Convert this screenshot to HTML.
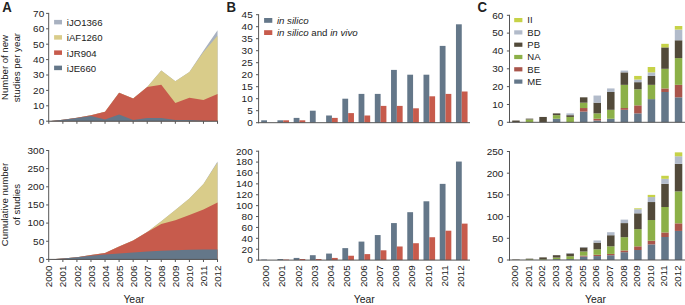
<!DOCTYPE html>
<html><head><meta charset="utf-8"><style>
html,body{margin:0;padding:0;background:#fff;}
svg{display:block;}
text{font-family:"Liberation Sans",sans-serif;fill:#222;}
</style></head><body>
<svg width="685" height="305" viewBox="0 0 685 305">
<polygon points="48.80,121.20 62.86,119.66 76.92,117.81 90.98,115.19 105.04,111.65 119.10,92.71 133.16,98.56 147.22,87.01 161.28,70.38 175.34,81.16 189.40,71.92 203.46,50.67 217.52,30.34 217.52,121.20 48.80,121.20" fill="#a8b1c0"/>
<polygon points="48.80,121.20 62.86,119.66 76.92,117.81 90.98,115.19 105.04,111.65 119.10,92.71 133.16,98.56 147.22,87.01 161.28,70.38 175.34,81.16 189.40,71.92 203.46,51.90 217.52,35.73 217.52,121.20 48.80,121.20" fill="#d9cc8a"/>
<polygon points="48.80,121.20 62.86,119.66 76.92,117.81 90.98,115.19 105.04,111.65 119.10,92.71 133.16,98.56 147.22,87.01 161.28,84.86 175.34,103.03 189.40,97.64 203.46,100.10 217.52,94.10 217.52,121.20 48.80,121.20" fill="#c75b4c"/>
<polygon points="48.80,121.20 62.86,119.66 76.92,118.12 90.98,116.12 105.04,119.51 119.10,114.58 133.16,120.12 147.22,118.12 161.28,118.12 175.34,120.12 189.40,120.12 203.46,120.74 217.52,121.20 217.52,121.20 48.80,121.20" fill="#647789"/>
<line x1="48.70" y1="12.90" x2="48.70" y2="121.70" stroke="#555" stroke-width="1"/>
<line x1="46.10" y1="121.20" x2="48.70" y2="121.20" stroke="#555" stroke-width="1"/>
<text transform="translate(44.20,124.55) scale(1,0.9)" text-anchor="end" font-size="10.0" >0</text>
<line x1="46.10" y1="105.80" x2="48.70" y2="105.80" stroke="#555" stroke-width="1"/>
<text transform="translate(44.20,109.15) scale(1,0.9)" text-anchor="end" font-size="10.0" >10</text>
<line x1="46.10" y1="90.40" x2="48.70" y2="90.40" stroke="#555" stroke-width="1"/>
<text transform="translate(44.20,93.75) scale(1,0.9)" text-anchor="end" font-size="10.0" >20</text>
<line x1="46.10" y1="75.00" x2="48.70" y2="75.00" stroke="#555" stroke-width="1"/>
<text transform="translate(44.20,78.35) scale(1,0.9)" text-anchor="end" font-size="10.0" >30</text>
<line x1="46.10" y1="59.60" x2="48.70" y2="59.60" stroke="#555" stroke-width="1"/>
<text transform="translate(44.20,62.95) scale(1,0.9)" text-anchor="end" font-size="10.0" >40</text>
<line x1="46.10" y1="44.20" x2="48.70" y2="44.20" stroke="#555" stroke-width="1"/>
<text transform="translate(44.20,47.55) scale(1,0.9)" text-anchor="end" font-size="10.0" >50</text>
<line x1="46.10" y1="28.80" x2="48.70" y2="28.80" stroke="#555" stroke-width="1"/>
<text transform="translate(44.20,32.15) scale(1,0.9)" text-anchor="end" font-size="10.0" >60</text>
<line x1="46.10" y1="13.40" x2="48.70" y2="13.40" stroke="#555" stroke-width="1"/>
<text transform="translate(44.20,16.75) scale(1,0.9)" text-anchor="end" font-size="10.0" >70</text>
<line x1="48.30" y1="121.20" x2="218.02" y2="121.20" stroke="#555" stroke-width="1"/>
<line x1="48.80" y1="121.20" x2="48.80" y2="123.80" stroke="#555" stroke-width="1"/>
<line x1="62.86" y1="121.20" x2="62.86" y2="123.80" stroke="#555" stroke-width="1"/>
<line x1="76.92" y1="121.20" x2="76.92" y2="123.80" stroke="#555" stroke-width="1"/>
<line x1="90.98" y1="121.20" x2="90.98" y2="123.80" stroke="#555" stroke-width="1"/>
<line x1="105.04" y1="121.20" x2="105.04" y2="123.80" stroke="#555" stroke-width="1"/>
<line x1="119.10" y1="121.20" x2="119.10" y2="123.80" stroke="#555" stroke-width="1"/>
<line x1="133.16" y1="121.20" x2="133.16" y2="123.80" stroke="#555" stroke-width="1"/>
<line x1="147.22" y1="121.20" x2="147.22" y2="123.80" stroke="#555" stroke-width="1"/>
<line x1="161.28" y1="121.20" x2="161.28" y2="123.80" stroke="#555" stroke-width="1"/>
<line x1="175.34" y1="121.20" x2="175.34" y2="123.80" stroke="#555" stroke-width="1"/>
<line x1="189.40" y1="121.20" x2="189.40" y2="123.80" stroke="#555" stroke-width="1"/>
<line x1="203.46" y1="121.20" x2="203.46" y2="123.80" stroke="#555" stroke-width="1"/>
<line x1="217.52" y1="121.20" x2="217.52" y2="123.80" stroke="#555" stroke-width="1"/>
<rect x="54.10" y="19.90" width="7.90" height="4.50" fill="#a8b1c0"/>
<text x="66.80" y="26.10" text-anchor="start" font-size="9.6" >iJO1366</text>
<rect x="54.10" y="35.15" width="7.90" height="4.50" fill="#d9cc8a"/>
<text x="66.80" y="41.35" text-anchor="start" font-size="9.6" >iAF1260</text>
<rect x="54.10" y="50.40" width="7.90" height="4.50" fill="#c75b4c"/>
<text x="66.80" y="56.60" text-anchor="start" font-size="9.6" >iJR904</text>
<rect x="54.10" y="65.65" width="7.90" height="4.50" fill="#647789"/>
<text x="66.80" y="71.85" text-anchor="start" font-size="9.6" >iJE660</text>
<polygon points="48.80,259.40 62.86,258.60 76.92,257.30 90.98,255.10 105.04,253.10 119.10,246.60 133.16,240.50 147.22,232.00 161.28,221.30 175.34,210.10 189.40,198.60 203.46,184.00 217.52,161.50 217.52,259.40 48.80,259.40" fill="#a8b1c0"/>
<polygon points="48.80,259.40 62.86,258.60 76.92,257.30 90.98,255.10 105.04,253.10 119.10,246.60 133.16,240.50 147.22,232.00 161.28,221.30 175.34,210.10 189.40,198.60 203.46,184.10 217.52,162.40 217.52,259.40 48.80,259.40" fill="#d9cc8a"/>
<polygon points="48.80,259.40 62.86,258.60 76.92,257.30 90.98,255.10 105.04,253.10 119.10,246.60 133.16,240.50 147.22,232.00 161.28,223.90 175.34,220.20 189.40,214.90 203.46,209.60 217.52,202.40 217.52,259.40 48.80,259.40" fill="#c75b4c"/>
<polygon points="48.80,259.40 62.86,258.60 76.92,257.30 90.98,255.80 105.04,254.40 119.10,253.40 133.16,252.50 147.22,251.50 161.28,250.80 175.34,250.20 189.40,249.80 203.46,249.50 217.52,249.40 217.52,259.40 48.80,259.40" fill="#647789"/>
<line x1="48.70" y1="150.00" x2="48.70" y2="259.90" stroke="#555" stroke-width="1"/>
<line x1="46.10" y1="259.40" x2="48.70" y2="259.40" stroke="#555" stroke-width="1"/>
<text transform="translate(44.20,262.75) scale(1,0.9)" text-anchor="end" font-size="10.0" >0</text>
<line x1="46.10" y1="241.25" x2="48.70" y2="241.25" stroke="#555" stroke-width="1"/>
<text transform="translate(44.20,244.60) scale(1,0.9)" text-anchor="end" font-size="10.0" >50</text>
<line x1="46.10" y1="223.10" x2="48.70" y2="223.10" stroke="#555" stroke-width="1"/>
<text transform="translate(44.20,226.45) scale(1,0.9)" text-anchor="end" font-size="10.0" >100</text>
<line x1="46.10" y1="204.95" x2="48.70" y2="204.95" stroke="#555" stroke-width="1"/>
<text transform="translate(44.20,208.30) scale(1,0.9)" text-anchor="end" font-size="10.0" >150</text>
<line x1="46.10" y1="186.80" x2="48.70" y2="186.80" stroke="#555" stroke-width="1"/>
<text transform="translate(44.20,190.15) scale(1,0.9)" text-anchor="end" font-size="10.0" >200</text>
<line x1="46.10" y1="168.65" x2="48.70" y2="168.65" stroke="#555" stroke-width="1"/>
<text transform="translate(44.20,172.00) scale(1,0.9)" text-anchor="end" font-size="10.0" >250</text>
<line x1="46.10" y1="150.50" x2="48.70" y2="150.50" stroke="#555" stroke-width="1"/>
<text transform="translate(44.20,153.85) scale(1,0.9)" text-anchor="end" font-size="10.0" >300</text>
<line x1="48.30" y1="259.40" x2="218.02" y2="259.40" stroke="#555" stroke-width="1"/>
<line x1="48.80" y1="259.40" x2="48.80" y2="262.00" stroke="#555" stroke-width="1"/>
<line x1="62.86" y1="259.40" x2="62.86" y2="262.00" stroke="#555" stroke-width="1"/>
<line x1="76.92" y1="259.40" x2="76.92" y2="262.00" stroke="#555" stroke-width="1"/>
<line x1="90.98" y1="259.40" x2="90.98" y2="262.00" stroke="#555" stroke-width="1"/>
<line x1="105.04" y1="259.40" x2="105.04" y2="262.00" stroke="#555" stroke-width="1"/>
<line x1="119.10" y1="259.40" x2="119.10" y2="262.00" stroke="#555" stroke-width="1"/>
<line x1="133.16" y1="259.40" x2="133.16" y2="262.00" stroke="#555" stroke-width="1"/>
<line x1="147.22" y1="259.40" x2="147.22" y2="262.00" stroke="#555" stroke-width="1"/>
<line x1="161.28" y1="259.40" x2="161.28" y2="262.00" stroke="#555" stroke-width="1"/>
<line x1="175.34" y1="259.40" x2="175.34" y2="262.00" stroke="#555" stroke-width="1"/>
<line x1="189.40" y1="259.40" x2="189.40" y2="262.00" stroke="#555" stroke-width="1"/>
<line x1="203.46" y1="259.40" x2="203.46" y2="262.00" stroke="#555" stroke-width="1"/>
<line x1="217.52" y1="259.40" x2="217.52" y2="262.00" stroke="#555" stroke-width="1"/>
<text transform="translate(52.43,265.50) rotate(-90)" text-anchor="end" font-size="9.8">2000</text>
<text transform="translate(66.49,265.50) rotate(-90)" text-anchor="end" font-size="9.8">2001</text>
<text transform="translate(80.55,265.50) rotate(-90)" text-anchor="end" font-size="9.8">2002</text>
<text transform="translate(94.61,265.50) rotate(-90)" text-anchor="end" font-size="9.8">2003</text>
<text transform="translate(108.67,265.50) rotate(-90)" text-anchor="end" font-size="9.8">2004</text>
<text transform="translate(122.73,265.50) rotate(-90)" text-anchor="end" font-size="9.8">2005</text>
<text transform="translate(136.79,265.50) rotate(-90)" text-anchor="end" font-size="9.8">2006</text>
<text transform="translate(150.85,265.50) rotate(-90)" text-anchor="end" font-size="9.8">2007</text>
<text transform="translate(164.91,265.50) rotate(-90)" text-anchor="end" font-size="9.8">2008</text>
<text transform="translate(178.97,265.50) rotate(-90)" text-anchor="end" font-size="9.8">2009</text>
<text transform="translate(193.03,265.50) rotate(-90)" text-anchor="end" font-size="9.8">2010</text>
<text transform="translate(207.09,265.50) rotate(-90)" text-anchor="end" font-size="9.8">2011</text>
<text transform="translate(221.15,265.50) rotate(-90)" text-anchor="end" font-size="9.8">2012</text>
<text x="133.90" y="302.90" text-anchor="middle" font-size="10.4" >Year</text>
<text transform="translate(8.4,67.5) rotate(-90)" text-anchor="middle" font-size="9.55">Number of new</text>
<text transform="translate(19.6,67.6) rotate(-90)" text-anchor="middle" font-size="9.75">studies per year</text>
<text transform="translate(8.4,204.6) rotate(-90)" text-anchor="middle" font-size="9.65">Cumulative number</text>
<text transform="translate(19.8,204.6) rotate(-90)" text-anchor="middle" font-size="9.65">of studies</text>
<rect x="261.20" y="120.30" width="5.80" height="2.40" fill="#647789"/>
<rect x="277.43" y="120.30" width="5.80" height="2.40" fill="#647789"/>
<rect x="283.23" y="120.30" width="5.80" height="2.40" fill="#c75b4c"/>
<rect x="293.66" y="117.90" width="5.80" height="4.80" fill="#647789"/>
<rect x="299.46" y="120.30" width="5.80" height="2.40" fill="#c75b4c"/>
<rect x="309.89" y="110.70" width="5.80" height="12.00" fill="#647789"/>
<rect x="326.12" y="115.50" width="5.80" height="7.20" fill="#647789"/>
<rect x="331.92" y="117.90" width="5.80" height="4.80" fill="#c75b4c"/>
<rect x="342.35" y="98.70" width="5.80" height="24.00" fill="#647789"/>
<rect x="348.15" y="113.10" width="5.80" height="9.60" fill="#c75b4c"/>
<rect x="358.58" y="93.90" width="5.80" height="28.80" fill="#647789"/>
<rect x="364.38" y="115.50" width="5.80" height="7.20" fill="#c75b4c"/>
<rect x="374.81" y="93.90" width="5.80" height="28.80" fill="#647789"/>
<rect x="380.61" y="105.90" width="5.80" height="16.80" fill="#c75b4c"/>
<rect x="391.04" y="69.90" width="5.80" height="52.80" fill="#647789"/>
<rect x="396.84" y="105.90" width="5.80" height="16.80" fill="#c75b4c"/>
<rect x="407.27" y="74.70" width="5.80" height="48.00" fill="#647789"/>
<rect x="413.07" y="108.30" width="5.80" height="14.40" fill="#c75b4c"/>
<rect x="423.50" y="74.70" width="5.80" height="48.00" fill="#647789"/>
<rect x="429.30" y="96.30" width="5.80" height="26.40" fill="#c75b4c"/>
<rect x="439.73" y="45.90" width="5.80" height="76.80" fill="#647789"/>
<rect x="445.53" y="93.90" width="5.80" height="28.80" fill="#c75b4c"/>
<rect x="455.96" y="24.30" width="5.80" height="98.40" fill="#647789"/>
<rect x="461.76" y="91.50" width="5.80" height="31.20" fill="#c75b4c"/>
<line x1="258.60" y1="14.20" x2="258.60" y2="123.20" stroke="#555" stroke-width="1"/>
<line x1="256.00" y1="122.70" x2="258.60" y2="122.70" stroke="#555" stroke-width="1"/>
<text transform="translate(252.70,126.05) scale(1,0.9)" text-anchor="end" font-size="10.0" >0</text>
<line x1="256.00" y1="110.70" x2="258.60" y2="110.70" stroke="#555" stroke-width="1"/>
<text transform="translate(252.70,114.05) scale(1,0.9)" text-anchor="end" font-size="10.0" >5</text>
<line x1="256.00" y1="98.70" x2="258.60" y2="98.70" stroke="#555" stroke-width="1"/>
<text transform="translate(252.70,102.05) scale(1,0.9)" text-anchor="end" font-size="10.0" >10</text>
<line x1="256.00" y1="86.70" x2="258.60" y2="86.70" stroke="#555" stroke-width="1"/>
<text transform="translate(252.70,90.05) scale(1,0.9)" text-anchor="end" font-size="10.0" >15</text>
<line x1="256.00" y1="74.70" x2="258.60" y2="74.70" stroke="#555" stroke-width="1"/>
<text transform="translate(252.70,78.05) scale(1,0.9)" text-anchor="end" font-size="10.0" >20</text>
<line x1="256.00" y1="62.70" x2="258.60" y2="62.70" stroke="#555" stroke-width="1"/>
<text transform="translate(252.70,66.05) scale(1,0.9)" text-anchor="end" font-size="10.0" >25</text>
<line x1="256.00" y1="50.70" x2="258.60" y2="50.70" stroke="#555" stroke-width="1"/>
<text transform="translate(252.70,54.05) scale(1,0.9)" text-anchor="end" font-size="10.0" >30</text>
<line x1="256.00" y1="38.70" x2="258.60" y2="38.70" stroke="#555" stroke-width="1"/>
<text transform="translate(252.70,42.05) scale(1,0.9)" text-anchor="end" font-size="10.0" >35</text>
<line x1="256.00" y1="26.70" x2="258.60" y2="26.70" stroke="#555" stroke-width="1"/>
<text transform="translate(252.70,30.05) scale(1,0.9)" text-anchor="end" font-size="10.0" >40</text>
<line x1="256.00" y1="14.70" x2="258.60" y2="14.70" stroke="#555" stroke-width="1"/>
<text transform="translate(252.70,18.05) scale(1,0.9)" text-anchor="end" font-size="10.0" >45</text>
<line x1="258.10" y1="122.70" x2="470.00" y2="122.70" stroke="#555" stroke-width="1"/>
<rect x="264.10" y="18.00" width="8.20" height="4.80" fill="#647789"/>
<rect x="264.10" y="30.20" width="8.20" height="4.80" fill="#c75b4c"/>
<text x="276.90" y="23.90" text-anchor="start" font-size="9.7" ><tspan font-style="italic">in silico</tspan></text>
<text x="276.90" y="36.10" text-anchor="start" font-size="9.7" ><tspan font-style="italic">in silico</tspan> and <tspan font-style="italic">in vivo</tspan></text>
<rect x="261.20" y="259.56" width="5.80" height="0.54" fill="#647789"/>
<rect x="277.43" y="259.01" width="5.80" height="1.09" fill="#647789"/>
<rect x="283.23" y="259.56" width="5.80" height="0.54" fill="#c75b4c"/>
<rect x="293.66" y="257.92" width="5.80" height="2.18" fill="#647789"/>
<rect x="299.46" y="259.01" width="5.80" height="1.09" fill="#c75b4c"/>
<rect x="309.89" y="255.20" width="5.80" height="4.90" fill="#647789"/>
<rect x="315.69" y="259.01" width="5.80" height="1.09" fill="#c75b4c"/>
<rect x="326.12" y="253.57" width="5.80" height="6.53" fill="#647789"/>
<rect x="331.92" y="257.92" width="5.80" height="2.18" fill="#c75b4c"/>
<rect x="342.35" y="248.12" width="5.80" height="11.98" fill="#647789"/>
<rect x="348.15" y="255.74" width="5.80" height="4.36" fill="#c75b4c"/>
<rect x="358.58" y="241.59" width="5.80" height="18.51" fill="#647789"/>
<rect x="364.38" y="254.11" width="5.80" height="5.99" fill="#c75b4c"/>
<rect x="374.81" y="235.05" width="5.80" height="25.05" fill="#647789"/>
<rect x="380.61" y="250.30" width="5.80" height="9.80" fill="#c75b4c"/>
<rect x="391.04" y="223.07" width="5.80" height="37.03" fill="#647789"/>
<rect x="396.84" y="246.49" width="5.80" height="13.61" fill="#c75b4c"/>
<rect x="407.27" y="212.18" width="5.80" height="47.92" fill="#647789"/>
<rect x="413.07" y="243.22" width="5.80" height="16.88" fill="#c75b4c"/>
<rect x="423.50" y="201.29" width="5.80" height="58.81" fill="#647789"/>
<rect x="429.30" y="237.23" width="5.80" height="22.87" fill="#c75b4c"/>
<rect x="439.73" y="183.87" width="5.80" height="76.23" fill="#647789"/>
<rect x="445.53" y="230.70" width="5.80" height="29.40" fill="#c75b4c"/>
<rect x="455.96" y="161.55" width="5.80" height="98.55" fill="#647789"/>
<rect x="461.76" y="223.62" width="5.80" height="36.48" fill="#c75b4c"/>
<line x1="258.60" y1="150.70" x2="258.60" y2="260.60" stroke="#555" stroke-width="1"/>
<line x1="256.00" y1="260.10" x2="258.60" y2="260.10" stroke="#555" stroke-width="1"/>
<text transform="translate(252.70,263.45) scale(1,0.9)" text-anchor="end" font-size="10.0" >0</text>
<line x1="256.00" y1="249.21" x2="258.60" y2="249.21" stroke="#555" stroke-width="1"/>
<text transform="translate(252.70,252.56) scale(1,0.9)" text-anchor="end" font-size="10.0" >20</text>
<line x1="256.00" y1="238.32" x2="258.60" y2="238.32" stroke="#555" stroke-width="1"/>
<text transform="translate(252.70,241.67) scale(1,0.9)" text-anchor="end" font-size="10.0" >40</text>
<line x1="256.00" y1="227.43" x2="258.60" y2="227.43" stroke="#555" stroke-width="1"/>
<text transform="translate(252.70,230.78) scale(1,0.9)" text-anchor="end" font-size="10.0" >60</text>
<line x1="256.00" y1="216.54" x2="258.60" y2="216.54" stroke="#555" stroke-width="1"/>
<text transform="translate(252.70,219.89) scale(1,0.9)" text-anchor="end" font-size="10.0" >80</text>
<line x1="256.00" y1="205.65" x2="258.60" y2="205.65" stroke="#555" stroke-width="1"/>
<text transform="translate(252.70,209.00) scale(1,0.9)" text-anchor="end" font-size="10.0" >100</text>
<line x1="256.00" y1="194.76" x2="258.60" y2="194.76" stroke="#555" stroke-width="1"/>
<text transform="translate(252.70,198.11) scale(1,0.9)" text-anchor="end" font-size="10.0" >120</text>
<line x1="256.00" y1="183.87" x2="258.60" y2="183.87" stroke="#555" stroke-width="1"/>
<text transform="translate(252.70,187.22) scale(1,0.9)" text-anchor="end" font-size="10.0" >140</text>
<line x1="256.00" y1="172.98" x2="258.60" y2="172.98" stroke="#555" stroke-width="1"/>
<text transform="translate(252.70,176.33) scale(1,0.9)" text-anchor="end" font-size="10.0" >160</text>
<line x1="256.00" y1="162.09" x2="258.60" y2="162.09" stroke="#555" stroke-width="1"/>
<text transform="translate(252.70,165.44) scale(1,0.9)" text-anchor="end" font-size="10.0" >180</text>
<line x1="256.00" y1="151.20" x2="258.60" y2="151.20" stroke="#555" stroke-width="1"/>
<text transform="translate(252.70,154.55) scale(1,0.9)" text-anchor="end" font-size="10.0" >200</text>
<line x1="258.10" y1="260.10" x2="470.00" y2="260.10" stroke="#555" stroke-width="1"/>
<text transform="translate(269.23,265.30) rotate(-90)" text-anchor="end" font-size="9.8">2000</text>
<text transform="translate(285.46,265.30) rotate(-90)" text-anchor="end" font-size="9.8">2001</text>
<text transform="translate(301.69,265.30) rotate(-90)" text-anchor="end" font-size="9.8">2002</text>
<text transform="translate(317.92,265.30) rotate(-90)" text-anchor="end" font-size="9.8">2003</text>
<text transform="translate(334.15,265.30) rotate(-90)" text-anchor="end" font-size="9.8">2004</text>
<text transform="translate(350.38,265.30) rotate(-90)" text-anchor="end" font-size="9.8">2005</text>
<text transform="translate(366.61,265.30) rotate(-90)" text-anchor="end" font-size="9.8">2006</text>
<text transform="translate(382.84,265.30) rotate(-90)" text-anchor="end" font-size="9.8">2007</text>
<text transform="translate(399.07,265.30) rotate(-90)" text-anchor="end" font-size="9.8">2008</text>
<text transform="translate(415.30,265.30) rotate(-90)" text-anchor="end" font-size="9.8">2009</text>
<text transform="translate(431.53,265.30) rotate(-90)" text-anchor="end" font-size="9.8">2010</text>
<text transform="translate(447.76,265.30) rotate(-90)" text-anchor="end" font-size="9.8">2011</text>
<text transform="translate(463.99,265.30) rotate(-90)" text-anchor="end" font-size="9.8">2012</text>
<text x="364.20" y="302.90" text-anchor="middle" font-size="10.4" >Year</text>
<rect x="512.20" y="120.52" width="7.50" height="1.78" fill="#524a3a"/>
<rect x="525.75" y="119.45" width="7.50" height="2.85" fill="#8cb048"/>
<rect x="525.75" y="118.64" width="7.50" height="0.80" fill="#524a3a"/>
<rect x="539.30" y="116.95" width="7.50" height="5.35" fill="#524a3a"/>
<rect x="552.85" y="118.73" width="7.50" height="3.57" fill="#647789"/>
<rect x="552.85" y="115.17" width="7.50" height="3.57" fill="#8cb048"/>
<rect x="552.85" y="113.38" width="7.50" height="1.78" fill="#524a3a"/>
<rect x="566.40" y="116.95" width="7.50" height="5.35" fill="#8cb048"/>
<rect x="566.40" y="115.17" width="7.50" height="1.78" fill="#524a3a"/>
<rect x="566.40" y="113.38" width="7.50" height="1.78" fill="#b2bbca"/>
<rect x="579.95" y="111.60" width="7.50" height="10.70" fill="#647789"/>
<rect x="579.95" y="108.03" width="7.50" height="3.57" fill="#a9554b"/>
<rect x="579.95" y="102.68" width="7.50" height="5.35" fill="#8cb048"/>
<rect x="579.95" y="97.33" width="7.50" height="5.35" fill="#524a3a"/>
<rect x="593.50" y="120.52" width="7.50" height="1.78" fill="#647789"/>
<rect x="593.50" y="118.73" width="7.50" height="1.78" fill="#a9554b"/>
<rect x="593.50" y="113.38" width="7.50" height="5.35" fill="#8cb048"/>
<rect x="593.50" y="102.68" width="7.50" height="10.70" fill="#524a3a"/>
<rect x="593.50" y="95.55" width="7.50" height="7.13" fill="#b2bbca"/>
<rect x="607.05" y="118.73" width="7.50" height="3.57" fill="#647789"/>
<rect x="607.05" y="109.82" width="7.50" height="8.92" fill="#8cb048"/>
<rect x="607.05" y="91.98" width="7.50" height="17.83" fill="#524a3a"/>
<rect x="607.05" y="88.42" width="7.50" height="3.57" fill="#b2bbca"/>
<rect x="620.60" y="109.82" width="7.50" height="12.48" fill="#647789"/>
<rect x="620.60" y="108.03" width="7.50" height="1.78" fill="#a9554b"/>
<rect x="620.60" y="84.85" width="7.50" height="23.18" fill="#8cb048"/>
<rect x="620.60" y="72.37" width="7.50" height="12.48" fill="#524a3a"/>
<rect x="620.60" y="70.58" width="7.50" height="1.78" fill="#b2bbca"/>
<rect x="634.15" y="113.38" width="7.50" height="8.92" fill="#647789"/>
<rect x="634.15" y="105.36" width="7.50" height="8.02" fill="#a9554b"/>
<rect x="634.15" y="89.31" width="7.50" height="16.05" fill="#8cb048"/>
<rect x="634.15" y="82.17" width="7.50" height="7.13" fill="#524a3a"/>
<rect x="634.15" y="79.50" width="7.50" height="2.67" fill="#b2bbca"/>
<rect x="634.15" y="75.93" width="7.50" height="3.57" fill="#c6d247"/>
<rect x="647.70" y="99.12" width="7.50" height="23.18" fill="#647789"/>
<rect x="647.70" y="84.85" width="7.50" height="14.27" fill="#8cb048"/>
<rect x="647.70" y="75.93" width="7.50" height="8.92" fill="#524a3a"/>
<rect x="647.70" y="72.37" width="7.50" height="3.57" fill="#b2bbca"/>
<rect x="647.70" y="67.02" width="7.50" height="5.35" fill="#c6d247"/>
<rect x="661.25" y="91.98" width="7.50" height="30.32" fill="#647789"/>
<rect x="661.25" y="88.42" width="7.50" height="3.57" fill="#a9554b"/>
<rect x="661.25" y="68.80" width="7.50" height="19.62" fill="#8cb048"/>
<rect x="661.25" y="47.40" width="7.50" height="21.40" fill="#524a3a"/>
<rect x="661.25" y="43.83" width="7.50" height="3.57" fill="#c6d247"/>
<rect x="674.80" y="97.33" width="7.50" height="24.97" fill="#647789"/>
<rect x="674.80" y="84.85" width="7.50" height="12.48" fill="#a9554b"/>
<rect x="674.80" y="58.10" width="7.50" height="26.75" fill="#8cb048"/>
<rect x="674.80" y="40.27" width="7.50" height="17.83" fill="#524a3a"/>
<rect x="674.80" y="29.57" width="7.50" height="10.70" fill="#b2bbca"/>
<rect x="674.80" y="26.00" width="7.50" height="3.57" fill="#c6d247"/>
<line x1="509.50" y1="14.80" x2="509.50" y2="122.80" stroke="#555" stroke-width="1"/>
<line x1="506.90" y1="122.30" x2="509.50" y2="122.30" stroke="#555" stroke-width="1"/>
<text transform="translate(503.40,125.65) scale(1,0.9)" text-anchor="end" font-size="10.0" >0</text>
<line x1="506.90" y1="104.47" x2="509.50" y2="104.47" stroke="#555" stroke-width="1"/>
<text transform="translate(503.40,107.82) scale(1,0.9)" text-anchor="end" font-size="10.0" >10</text>
<line x1="506.90" y1="86.63" x2="509.50" y2="86.63" stroke="#555" stroke-width="1"/>
<text transform="translate(503.40,89.98) scale(1,0.9)" text-anchor="end" font-size="10.0" >20</text>
<line x1="506.90" y1="68.80" x2="509.50" y2="68.80" stroke="#555" stroke-width="1"/>
<text transform="translate(503.40,72.15) scale(1,0.9)" text-anchor="end" font-size="10.0" >30</text>
<line x1="506.90" y1="50.97" x2="509.50" y2="50.97" stroke="#555" stroke-width="1"/>
<text transform="translate(503.40,54.32) scale(1,0.9)" text-anchor="end" font-size="10.0" >40</text>
<line x1="506.90" y1="33.13" x2="509.50" y2="33.13" stroke="#555" stroke-width="1"/>
<text transform="translate(503.40,36.48) scale(1,0.9)" text-anchor="end" font-size="10.0" >50</text>
<line x1="506.90" y1="15.30" x2="509.50" y2="15.30" stroke="#555" stroke-width="1"/>
<text transform="translate(503.40,18.65) scale(1,0.9)" text-anchor="end" font-size="10.0" >60</text>
<line x1="509.00" y1="122.30" x2="685.00" y2="122.30" stroke="#555" stroke-width="1"/>
<rect x="514.20" y="18.00" width="8.20" height="4.20" fill="#c6d247"/>
<text x="527.30" y="23.40" text-anchor="start" font-size="9.5" >II</text>
<rect x="514.20" y="30.30" width="8.20" height="4.20" fill="#b2bbca"/>
<text x="527.30" y="35.70" text-anchor="start" font-size="9.5" >BD</text>
<rect x="514.20" y="42.60" width="8.20" height="4.20" fill="#524a3a"/>
<text x="527.30" y="48.00" text-anchor="start" font-size="9.5" >PB</text>
<rect x="514.20" y="54.90" width="8.20" height="4.20" fill="#8cb048"/>
<text x="527.30" y="60.30" text-anchor="start" font-size="9.5" >NA</text>
<rect x="514.20" y="67.20" width="8.20" height="4.20" fill="#a9554b"/>
<text x="527.30" y="72.60" text-anchor="start" font-size="9.5" >BE</text>
<rect x="514.20" y="79.50" width="8.20" height="4.20" fill="#647789"/>
<text x="527.30" y="84.90" text-anchor="start" font-size="9.5" >ME</text>
<rect x="512.20" y="259.57" width="7.50" height="0.43" fill="#524a3a"/>
<rect x="525.75" y="259.31" width="7.50" height="0.69" fill="#8cb048"/>
<rect x="525.75" y="258.68" width="7.50" height="0.63" fill="#524a3a"/>
<rect x="539.30" y="259.31" width="7.50" height="0.69" fill="#8cb048"/>
<rect x="539.30" y="257.37" width="7.50" height="1.93" fill="#524a3a"/>
<rect x="552.85" y="259.13" width="7.50" height="0.87" fill="#647789"/>
<rect x="552.85" y="257.57" width="7.50" height="1.56" fill="#8cb048"/>
<rect x="552.85" y="255.20" width="7.50" height="2.37" fill="#524a3a"/>
<rect x="566.40" y="259.13" width="7.50" height="0.87" fill="#647789"/>
<rect x="566.40" y="256.27" width="7.50" height="2.86" fill="#8cb048"/>
<rect x="566.40" y="253.47" width="7.50" height="2.80" fill="#524a3a"/>
<rect x="566.40" y="253.03" width="7.50" height="0.43" fill="#b2bbca"/>
<rect x="579.95" y="256.53" width="7.50" height="3.47" fill="#647789"/>
<rect x="579.95" y="255.66" width="7.50" height="0.87" fill="#a9554b"/>
<rect x="579.95" y="251.49" width="7.50" height="4.17" fill="#8cb048"/>
<rect x="579.95" y="247.39" width="7.50" height="4.10" fill="#524a3a"/>
<rect x="579.95" y="246.96" width="7.50" height="0.43" fill="#b2bbca"/>
<rect x="593.50" y="256.09" width="7.50" height="3.91" fill="#647789"/>
<rect x="593.50" y="254.79" width="7.50" height="1.30" fill="#a9554b"/>
<rect x="593.50" y="249.32" width="7.50" height="5.47" fill="#8cb048"/>
<rect x="593.50" y="242.62" width="7.50" height="6.71" fill="#524a3a"/>
<rect x="593.50" y="240.45" width="7.50" height="2.17" fill="#b2bbca"/>
<rect x="607.05" y="255.23" width="7.50" height="4.77" fill="#647789"/>
<rect x="607.05" y="253.92" width="7.50" height="1.30" fill="#a9554b"/>
<rect x="607.05" y="246.29" width="7.50" height="7.64" fill="#8cb048"/>
<rect x="607.05" y="235.24" width="7.50" height="11.05" fill="#524a3a"/>
<rect x="607.05" y="232.20" width="7.50" height="3.04" fill="#b2bbca"/>
<rect x="620.60" y="252.19" width="7.50" height="7.81" fill="#647789"/>
<rect x="620.60" y="250.45" width="7.50" height="1.74" fill="#a9554b"/>
<rect x="620.60" y="237.17" width="7.50" height="13.28" fill="#8cb048"/>
<rect x="620.60" y="223.09" width="7.50" height="14.08" fill="#524a3a"/>
<rect x="620.60" y="219.62" width="7.50" height="3.47" fill="#b2bbca"/>
<rect x="634.15" y="250.02" width="7.50" height="9.98" fill="#647789"/>
<rect x="634.15" y="246.33" width="7.50" height="3.69" fill="#a9554b"/>
<rect x="634.15" y="229.14" width="7.50" height="17.19" fill="#8cb048"/>
<rect x="634.15" y="213.32" width="7.50" height="15.82" fill="#524a3a"/>
<rect x="634.15" y="209.20" width="7.50" height="4.12" fill="#b2bbca"/>
<rect x="634.15" y="208.33" width="7.50" height="0.87" fill="#c6d247"/>
<rect x="647.70" y="244.38" width="7.50" height="15.62" fill="#647789"/>
<rect x="647.70" y="240.69" width="7.50" height="3.69" fill="#a9554b"/>
<rect x="647.70" y="220.03" width="7.50" height="20.66" fill="#8cb048"/>
<rect x="647.70" y="202.04" width="7.50" height="17.99" fill="#524a3a"/>
<rect x="647.70" y="197.05" width="7.50" height="4.99" fill="#b2bbca"/>
<rect x="647.70" y="194.88" width="7.50" height="2.17" fill="#c6d247"/>
<rect x="661.25" y="237.00" width="7.50" height="23.00" fill="#647789"/>
<rect x="661.25" y="232.44" width="7.50" height="4.56" fill="#a9554b"/>
<rect x="661.25" y="207.01" width="7.50" height="25.43" fill="#8cb048"/>
<rect x="661.25" y="183.81" width="7.50" height="23.20" fill="#524a3a"/>
<rect x="661.25" y="178.82" width="7.50" height="4.99" fill="#b2bbca"/>
<rect x="661.25" y="175.78" width="7.50" height="3.04" fill="#c6d247"/>
<rect x="674.80" y="230.92" width="7.50" height="29.08" fill="#647789"/>
<rect x="674.80" y="223.33" width="7.50" height="7.59" fill="#a9554b"/>
<rect x="674.80" y="191.38" width="7.50" height="31.94" fill="#8cb048"/>
<rect x="674.80" y="163.85" width="7.50" height="27.54" fill="#524a3a"/>
<rect x="674.80" y="156.25" width="7.50" height="7.59" fill="#b2bbca"/>
<rect x="674.80" y="152.35" width="7.50" height="3.91" fill="#c6d247"/>
<line x1="509.50" y1="151.00" x2="509.50" y2="260.50" stroke="#555" stroke-width="1"/>
<line x1="506.90" y1="260.00" x2="509.50" y2="260.00" stroke="#555" stroke-width="1"/>
<text transform="translate(503.40,263.35) scale(1,0.9)" text-anchor="end" font-size="10.0" >0</text>
<line x1="506.90" y1="238.30" x2="509.50" y2="238.30" stroke="#555" stroke-width="1"/>
<text transform="translate(503.40,241.65) scale(1,0.9)" text-anchor="end" font-size="10.0" >50</text>
<line x1="506.90" y1="216.60" x2="509.50" y2="216.60" stroke="#555" stroke-width="1"/>
<text transform="translate(503.40,219.95) scale(1,0.9)" text-anchor="end" font-size="10.0" >100</text>
<line x1="506.90" y1="194.90" x2="509.50" y2="194.90" stroke="#555" stroke-width="1"/>
<text transform="translate(503.40,198.25) scale(1,0.9)" text-anchor="end" font-size="10.0" >150</text>
<line x1="506.90" y1="173.20" x2="509.50" y2="173.20" stroke="#555" stroke-width="1"/>
<text transform="translate(503.40,176.55) scale(1,0.9)" text-anchor="end" font-size="10.0" >200</text>
<line x1="506.90" y1="151.50" x2="509.50" y2="151.50" stroke="#555" stroke-width="1"/>
<text transform="translate(503.40,154.85) scale(1,0.9)" text-anchor="end" font-size="10.0" >250</text>
<line x1="509.00" y1="260.00" x2="685.00" y2="260.00" stroke="#555" stroke-width="1"/>
<text transform="translate(518.18,265.30) rotate(-90)" text-anchor="end" font-size="9.8">2000</text>
<text transform="translate(531.73,265.30) rotate(-90)" text-anchor="end" font-size="9.8">2001</text>
<text transform="translate(545.28,265.30) rotate(-90)" text-anchor="end" font-size="9.8">2002</text>
<text transform="translate(558.83,265.30) rotate(-90)" text-anchor="end" font-size="9.8">2003</text>
<text transform="translate(572.38,265.30) rotate(-90)" text-anchor="end" font-size="9.8">2004</text>
<text transform="translate(585.93,265.30) rotate(-90)" text-anchor="end" font-size="9.8">2005</text>
<text transform="translate(599.48,265.30) rotate(-90)" text-anchor="end" font-size="9.8">2006</text>
<text transform="translate(613.03,265.30) rotate(-90)" text-anchor="end" font-size="9.8">2007</text>
<text transform="translate(626.58,265.30) rotate(-90)" text-anchor="end" font-size="9.8">2008</text>
<text transform="translate(640.13,265.30) rotate(-90)" text-anchor="end" font-size="9.8">2009</text>
<text transform="translate(653.68,265.30) rotate(-90)" text-anchor="end" font-size="9.8">2010</text>
<text transform="translate(667.23,265.30) rotate(-90)" text-anchor="end" font-size="9.8">2011</text>
<text transform="translate(680.78,265.30) rotate(-90)" text-anchor="end" font-size="9.8">2012</text>
<text x="595.50" y="302.90" text-anchor="middle" font-size="10.4" >Year</text>
<text transform="translate(2.20,11.70) scale(1,1.1)" text-anchor="start" font-size="13.2" font-weight="bold">A</text>
<text transform="translate(226.60,11.80) scale(1,1.12)" text-anchor="start" font-size="13.2" font-weight="bold">B</text>
<text transform="translate(477.50,11.90) scale(1,1.12)" text-anchor="start" font-size="13.2" font-weight="bold">C</text>
</svg>
</body></html>
